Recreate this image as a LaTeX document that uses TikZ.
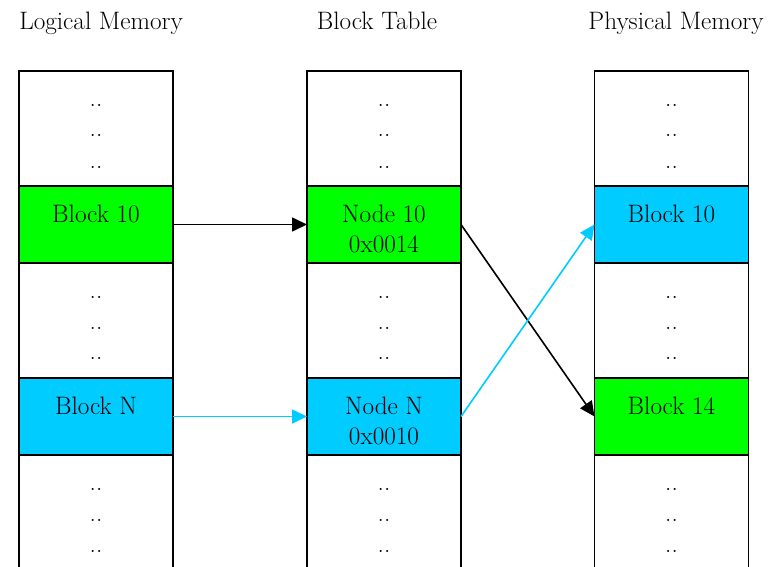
\documentclass[tikz,border=0pt]{standalone}
\usetikzlibrary{arrows.meta}
\definecolor{cgreen}{RGB}{0,255,0}
\definecolor{ccyan}{RGB}{0,204,255}
\begin{document}
\begin{tikzpicture}[x=1pt,y=-1pt,
  font=\rmfamily\fontsize{25.2}{30}\selectfont,
  cell/.style={draw=black, line width=1.4pt, minimum width=154pt, inner sep=0pt, outer sep=0pt},
  txt/.style={anchor=base, inner sep=0pt},
  arr/.style={line width=1.6pt, -{Triangle[length=15pt,width=14pt]}}]
\clip (0,0) rectangle (771,567);
\useasboundingbox (0,0) rectangle (771,567);
\fill[white] (0,0) rectangle (771,567);
% titles
\node[txt] (tl) at (101,30) {Logical Memory};
\node[txt] (tt) at (377,30) {Block Table};
\node[txt] (tp) at (676,30) {Physical Memory};
% columns
\foreach \c/\p/\fa/\fb in {96/l/cgreen/ccyan, 384/t/cgreen/ccyan, 671.5/p/ccyan/cgreen} {
  \node[cell, fill=white, minimum height=115pt] (\p1) at (\c,128.5) {};
  \node[cell, fill=\fa, minimum height=77pt] (\p2) at (\c,224.5) {};
  \node[cell, fill=white, minimum height=115pt] (\p3) at (\c,320.5) {};
  \node[cell, fill=\fb, minimum height=77pt] (\p4) at (\c,416.5) {};
  \node[cell, fill=white, minimum height=150pt] (\p5) at (\c,530) {};
  \foreach \y in {107,137,168, 298,329,359, 490,521,552} {
    \node[txt] at (\c,\y) {..};
  }
}
% texts in colored rows
\node[txt] at (96,222) {Block 10};
\node[txt] at (96,414) {Block N};
\node[txt] at (384,222) {Node 10};
\node[txt] at (384,252) {0x0014};
\node[txt] at (384,414) {Node N};
\node[txt] at (384,444) {0x0010};
\node[txt] at (671.5,222) {Block 10};
\node[txt] at (671.5,414) {Block 14};
% arrows
\draw[arr, black] (l2.east) -- (t2.west);
\draw[arr, ccyan] (l4.east) -- (t4.west);
\draw[arr, black] (t2.east) -- (p4.west);
\draw[arr, ccyan] (t4.east) -- (p2.west);
\end{tikzpicture}
\end{document}
